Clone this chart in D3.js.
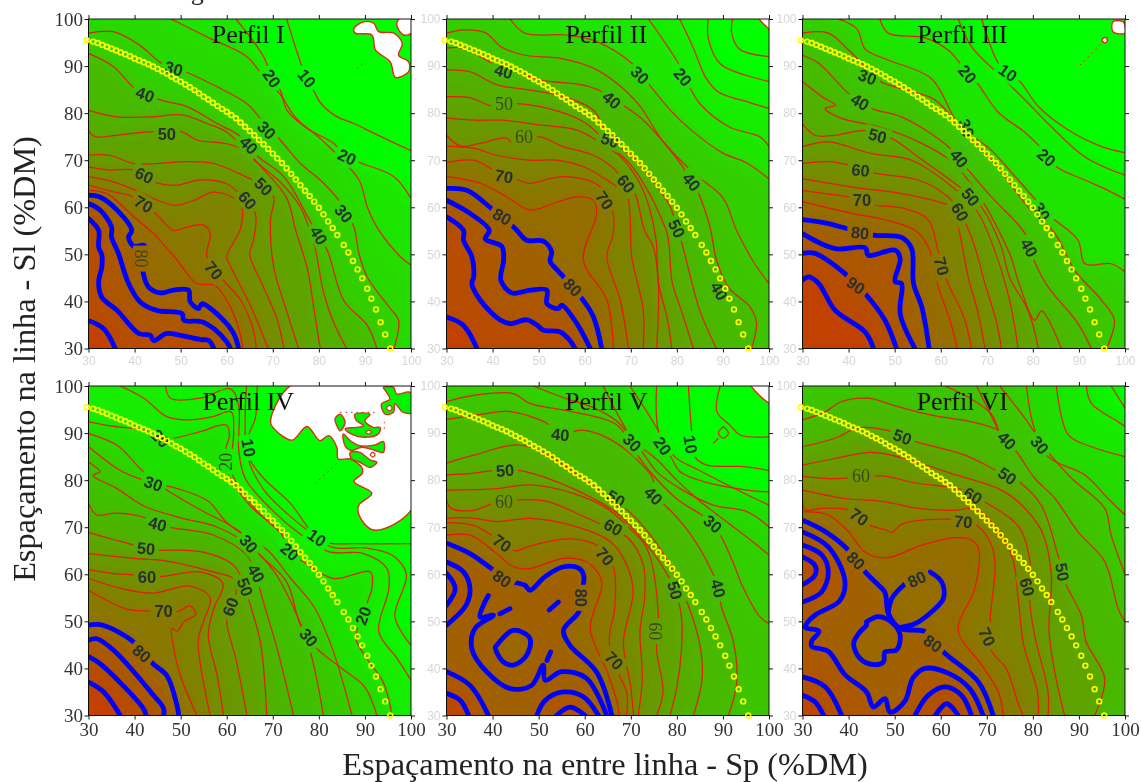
<!DOCTYPE html>
<html>
<head>
<meta charset="utf-8">
<script src="https://cdn.jsdelivr.net/npm/d3@7"></script>
<style>
html, body { margin: 0; background: #fff; }
svg { display: block; font-family: "Liberation Serif", serif; }
</style>
</head>
<body>
<div id="chart"></div>
<script>
// Shared axis ticks and the yellow boundary
const tickValues = [30, 40, 50, 60, 70, 80, 90, 100]
const boundarySp = [29.6,31,32,33,34,35,36,37,38,39,40,41,42,43,44,45,46,47,48,49,50,51,52,53,54,55,56,57,58,59,60,61,62,63,64,65,66,67,68,69,70,71,72,73,74,75,76,77,78,79,80,81,82,83,84,85.4,86.4,87.4,88.4,89.4,90.5,91.4,92.4,93.4,94.4,95.5]
const boundarySl = [95.5,95.2,94.9,94.5,94.1,93.7,93.3,92.9,92.5,92.1,91.6,91.2,90.8,90.4,89.9,89.4,88.9,88.4,87.8,87.2,86.7,86.1,85.5,84.9,84.2,83.5,82.9,82.2,81.5,80.9,80.3,79.6,78.9,78,77.1,76.2,75.3,74.3,73.4,72.4,71.4,70.4,69.4,68.3,67.1,65.9,64.7,63.5,62.4,61.2,59.9,58.5,57,55.6,54.1,52,50.4,48.6,46.8,44.9,42.7,40.6,38.3,35.6,33,30]

// Each contour: [level, points as [Sp, Sl]]
const linesI = [
  [10, [[73,100],[76.3,90],[77.4,87.4],[79,84.5],[80.5,82],[84,79.2],[87.6,77.8],[92,75.7],[100,72]]],
  [20, [[62,100],[68,92],[69.8,87.4],[71.6,84.9],[73.1,80.6],[77.4,76.8],[83.2,73.6],[86.1,70.7],[89.4,69.3],[96.3,66.5],[100,61.9]]],
  [25, [[47.9,100],[55.7,96.2],[64.4,92],[68,87.7],[71.6,84],[75,79],[81,74],[88.7,65.8],[90.5,60.1],[92.6,55.8],[97.7,49.5],[100,47.7]]],
  [30, [[30,97],[35.4,97.3],[41,94.5],[46,90.5],[51,88.8],[57.9,85.6],[64.4,82],[67.3,78.9],[71.6,74.3],[76,69.3],[80.3,65.8],[84.3,61.5],[87.6,55.8],[88.7,50.2],[90.5,45.2],[95.5,38.5],[97.3,36],[96.3,30]]],
  [40, [[30,92.7],[35.4,89.9],[40,85.3],[45.6,82.8],[51.4,81.4],[57.9,77.8],[62.6,75.3],[66.9,70.7],[72.4,66.5],[78.2,56.9],[81.8,50.9],[85.4,40.2],[90.5,34.9],[92.6,30]]],
  [45, [[30,80.6],[36.2,79.2],[43.4,79.2],[50.6,79.6],[55.7,77.8],[60,76],[66,70],[72,65],[76,60],[79,52],[81,42],[83,36],[86,30]]],
  [50, [[30,76.3],[31.5,75],[36,75.3],[43,76],[50.3,76],[53.5,74.3],[60,73.5],[64,72],[68,68],[73,62],[75,55],[77.5,47],[79,38],[80.3,30]]],
  [55, [[30,71.1],[34.7,71],[39.8,69.3],[44.8,69.3],[51.4,69.7],[57.2,69.3],[62.6,67.2],[68,64.4],[70.2,62.2],[69.5,57.3],[70.2,47.3],[73,38],[75.6,30]]],
  [60, [[30,68.6],[34.7,67.9],[40.1,67.9],[44.8,65.2],[49.2,64.7],[54.3,65.8],[60,65],[62.6,63],[66.2,58.7],[65.8,53],[65,50],[68,43],[71,36],[72.4,30]]],
  [65, [[30,66.5],[35,65.5],[40,63.7],[45,61.5],[48.8,60.4],[53,61.5],[57,63.2],[61.5,62],[63.2,60.3],[63,55.5],[60,49.5],[60.8,47.5],[65.2,39],[69,30]]],
  [70, [[30,64.7],[35.4,63.3],[39.8,62.2],[44.5,58.7],[48.5,55.1],[51.4,55.8],[55,56.2],[56.4,54.4],[55.7,49.5],[59.3,44.5],[63,40.3],[65.8,33.9],[66.4,30]]],
  [75, [[30,63.6],[34,62.9],[39.8,58],[44.1,54.4],[49.2,48.8],[53.5,43.8],[57.5,43.4],[60.8,38.8],[62.8,33.5],[63.5,30]]]
]
const blueI = [
  [80, [[30,62.6],[32.5,62.2],[36.2,59.4],[39.4,55.1],[38.7,53.7],[39.8,51.7],[42.1,51.9],[41.6,49.1],[41.9,45.9],[43,43.1],[45.6,41.8],[48.5,42.4],[51.7,42.4],[52.1,39.9],[53.9,38.5],[54.6,39.5],[58.6,36.7],[61.5,33.2],[62.6,30]]],
  [85, [[30,60.8],[32.5,59.4],[35,55.8],[35,53.7],[36.5,50.2],[38.7,43.8],[41.2,39.9],[44.8,38.1],[50.3,37.4],[50.7,36],[54.6,35.7],[57.2,34.2],[60,31.4],[60.8,30]]],
  [90, [[30,57.6],[32.2,55.1],[32.2,51.6],[32.9,49.8],[32.9,47.3],[32.2,44.1],[32.9,40.9],[36.2,38.1],[40.9,33.2],[43.4,32.8],[44.1,31.7],[47,33.2],[49.9,32.8],[54.3,31.9],[56.1,31.7],[57.2,30]]],
  [95, [[30,35.9],[33.3,34.2],[35.8,30]]]
]
const labelsI = [
  [48.5,89.5,"30",15,1],[69.8,87.4,"20",55,1],[77.4,87.4,"10",50,1],[42.3,84,"40",20,1],[68.7,76.4,"30",45,1],[64.8,73.2,"40",45,1],
  [47,75.5,"50",0,1],[86.1,70.7,"20",25,1],[42.1,66.8,"60",25,1],[68,64.4,"50",45,1],[42,60.7,"70",30,1],[64.5,61.5,"60",50,1],
  [85.4,58.7,"30",50,1],[80,54,"40",60,1],[41.6,49.1,"80",90,0],[57.2,46.6,"70",50,1]
]
const holesI = [
  [[87.6,98],[89.7,99.4],[91.9,99.1],[93,97.3],[96.3,97],[98.1,94.8],[97.3,92.3],[99.5,90.9],[99.5,88.8],[96.6,87.6],[95.5,90.9],[92.3,93.4],[91.5,96.6],[87.9,97]],
  [[97,99.4],[98.1,100.5],[100.5,100.5],[100.5,97.3],[98.4,96.6],[97,98.4]]
]

const linesII = [
  [6, [[92.1,100],[91.9,97],[93.7,93.5],[100,92]]],
  [12, [[86.8,100],[86.8,96],[89.4,90.5],[95.1,88],[100,86.7]]],
  [16, [[80.6,100],[83.5,94],[86.3,87.5],[89,84.5],[96,82.2],[100,81]]],
  [20, [[73.8,100],[80.3,90.6],[82.9,85.3],[85,82],[91.5,77],[98,75],[100,72.9]]],
  [30, [[43.8,100],[47,97],[56.1,96.6],[62.6,95.2],[70.2,90.6],[74.2,85.8],[78.5,80.7],[83,76.5],[90,71.5],[95,69.5],[100,66]]],
  [35, [[30,97],[33.7,97.7],[38.4,97.1],[42,94],[47,92.3],[55,91.6],[62,89.5],[68,85.5],[72,81.5],[77,74],[84,67],[90,62],[93,55],[96.9,48],[100,43.8]]],
  [40, [[30,93.8],[33.7,93.8],[40,90.6],[44.5,89],[50.5,87],[60,85.9],[65.5,83.7],[68,81.9],[72.5,78.7],[77.4,73.5],[81,69],[83.2,65.4],[84.7,62.9],[87.2,55.8],[88.6,48.8],[91.2,43],[95.9,38.8],[97.3,35.3],[96.2,30]]],
  [45, [[30,89.2],[35,88.8],[41,86],[47.4,85],[55.4,83.5],[62,80.5],[65.5,74.3],[70,71],[76,64],[78.6,60],[80,55.5],[81,52.7],[83,45],[85,38],[88.6,30]]],
  [50, [[30,83.5],[35,83.3],[40,81.5],[44.2,82],[52,81],[60,78],[65,73.5],[70,69],[74,63],[76,59],[78,54],[79,44],[81,38],[83.6,30]]],
  [55, [[30,79],[36,78.5],[42,78.5],[50,77.5],[58,76.5],[63,74],[68,70.5],[72,65],[74,60],[75.5,53],[76,44],[78,36],[78.9,30]]],
  [60, [[30,75.3],[33,73],[37,73.5],[43,74.7],[44.5,73.5],[50,75],[55,73],[62,71],[66,68.5],[69,65],[70.9,62.9],[73,55],[74.9,51.6],[76,43.4],[75.6,30]]],
  [65, [[30,73],[36,72.5],[41,71],[48,70],[54,70],[60,68.5],[64.5,66],[66,65],[69,63],[69.8,58.7],[70.2,49.5],[72.7,38.2],[72.7,30]]],
  [70, [[30,69.5],[35.9,70],[40.3,67.9],[45.6,65.8],[48,65.1],[55.4,66.5],[63.3,64.4],[66.1,59],[66.2,54.4],[64.8,49.5],[67.7,40.3],[69.5,30]]],
  [75, [[30,66.5],[37.3,65.1],[43.1,62.2],[48.1,59.4],[53.2,60.8],[58.3,62.2],[61.9,61.5],[62.6,58.7],[59.7,48.8],[64.8,40.3],[66.2,30]]]
]
const blueII = [
  [80, [[30,64],[34.4,63.6],[39.8,59.7],[44.9,55.5],[47.4,53],[51,52.8],[52.8,50.6],[52.5,48.5],[54.3,46.4],[55.4,45.2],[59.4,40.6],[61.9,36.7],[63.7,30]]],
  [85, [[30,61.5],[35.1,58.7],[39.3,55.1],[38.4,53.3],[42,51.7],[42.4,48.8],[41.8,44.5],[44.2,41.8],[48.2,42.4],[51.8,42.4],[51.8,39.5],[54.3,38.5],[55,39.2],[58.3,35.3],[61.2,30]]],
  [90, [[30,58],[33.7,55.1],[33.7,53],[35.5,49.5],[35.9,45.2],[35.5,43.8],[37.3,40.3],[41.6,36.1],[43.8,35.3],[47.4,36.1],[49.6,35],[51,33.9],[54.7,33.5],[56.8,31.7],[57.9,30]]],
  [95, [[30,36.7],[33.7,34.9],[36.6,30]]]
]
const labelsII = [
  [42.4,88.9,"40",15,1],[72,88.1,"30",45,1],[81.3,87.7,"20",50,1],[65.9,82.8,"40",40,1],[42.5,82.1,"50",0,0],[46.8,75,"60",0,0],
  [65.5,74.3,"50",20,1],[42.5,66.6,"70",10,1],[83.2,65.4,"40",50,1],[69,65,"60",50,1],[64.3,61.5,"70",55,1],[42.1,58,"80",30,1],
  [80,55.5,"50",65,1],[57.4,43,"80",45,1],[89.2,42.2,"40",60,1]
]
const holesII = [
  [[97.7,100.5],[100.5,100.5],[100.5,97.7]]
]

const linesIII = [
  [10, [[68.9,100],[72.5,90.6],[74.6,88.6],[77.2,86.7],[81.2,81.4],[87.7,76.4],[94.9,72.9],[100,71.6]]],
  [15, [[63.8,100],[66.7,94.1],[73.2,87.7],[78.3,82.8],[84,77.1],[91.3,70.7],[100,66.8]]],
  [20, [[46.8,100],[48.6,97],[56.6,96],[61.6,93.4],[64.2,90.6],[68,86.3],[72.5,80.2],[78.3,75.9],[81.2,73.2],[85.1,68.6],[91.3,65.8],[96.3,63.6],[100,61.7]]],
  [30, [[37.8,100],[41.8,97.9],[43.6,93.6],[48,91.5],[58,87.3],[63.8,77.8],[71,72.1],[76.8,65.8],[84,58],[89.8,53],[91.3,48],[97,48],[100,46.3]]],
  [35, [[30,97],[35.6,97],[40,93.4],[42.9,90.6],[47,86.7],[58.8,82.8],[64.5,76.4],[72,69],[79,60],[84.8,54.4],[89.1,46.6],[94.9,40.3],[97.7,36],[96,30]]],
  [40, [[30,92.3],[33.5,90.6],[40,84.2],[45,81],[51.5,79.2],[61.6,72.9],[66,67.9],[71,62.2],[78.3,54.4],[80.4,48.4],[83.3,43.1],[89.8,35.3],[92.7,30]]],
  [45, [[30,86.7],[34.2,83.5],[37.1,81.7],[34.9,81],[38.5,78.9],[47,77],[55,74],[62,70],[68,63],[75,50],[77,43.8],[80.4,36],[81.9,38],[86.2,30]]],
  [50, [[30,77.7],[32.7,75.3],[37.1,75.3],[43.2,76.3],[49.4,74.6],[55.1,70.7],[64.5,64],[68.9,60],[73,52],[75,45],[79,38],[81.2,30]]],
  [55, [[30,72.9],[35.6,73.9],[45,71.4],[53.7,70],[62.4,64.4],[68,59],[72,50],[75,40],[76.8,30]]],
  [60, [[30,69.3],[35.6,69.7],[40,69],[45.4,67.3],[55.1,65.8],[61.6,62.2],[64.2,59],[65.6,56.2],[67.4,51.6],[69.6,43.8],[72,36],[73.2,30]]],
  [65, [[30,66.1],[40.7,64.3],[51.5,62.9],[60,61],[62.5,60],[64,55],[66,45],[68,38],[69.6,30]]],
  [70, [[30,63.6],[34.9,62.9],[40,62.2],[45.4,60.5],[52.3,59.7],[57.3,57.3],[59.5,50.5],[61.3,44.5],[65,36.7],[66.7,30]]],
  [75, [[30,61.2],[40.7,58.7],[48,57.3],[54.4,55.1],[57.3,51.6],[59.5,43],[62,36],[63.6,30]]]
]
const blueIII = [
  [80, [[30,57.4],[34.9,56.7],[39.6,55.5],[45.4,54.1],[51.5,53.6],[53.7,51.2],[54.1,43.8],[55.9,38.8],[57.5,30]]],
  [85, [[30,54.4],[37.1,51.2],[43.6,51.4],[44.3,49.8],[50.1,50.9],[51.2,49.1],[50.1,44.2],[51.5,43.8],[51.2,37.4],[54.4,30]]],
  [90, [[30,50.2],[32.7,50.2],[39.6,45.6],[43.9,41.3],[47.9,36],[50.4,30]]],
  [95, [[30,44.5],[31.3,45.2],[33.5,43.8],[37.1,38.1],[43.6,33.5],[45.4,30]]]
]
const labelsIII = [
  [44.1,87.7,"30",20,1],[65.8,88.3,"20",50,1],[74.6,88.6,"10",35,1],[42.5,82.4,"40",30,1],[65.6,76.8,"30",70,1],[46.3,75.2,"50",15,1],
  [83,70.6,"20",40,1],[64,70.4,"40",50,1],[42.6,67.9,"60",5,1],[66.5,62.2,"50",50,1],[42.9,61.5,"70",0,1],[64.2,59,"60",60,1],
  [81.9,59.1,"30",60,1],[42.5,54.6,"80",5,1],[79.2,51.4,"40",60,1],[60.2,47.5,"70",75,1],[41.6,43.4,"90",35,1]
]
const holesIII = [
  [[97.4,99.4],[99.6,99.4],[100,97],[97.4,97.3]],
  [[95,95.5],[95.6,96.1],[96.2,95.5],[95.6,94.9]]
]

const linesIV = [
  [10, [[66.6,100],[66.2,93.1],[64.8,89.6],[64.8,86.9],[65.1,84.3],[68,80.4],[73.8,75.1],[77.8,69.7],[79.6,67.8],[82.1,66.6],[87.6,66.5],[100,66.5]]],
  [13, [[64.3,100],[64,93],[64.5,85],[68,78],[73,73],[78,69],[83,65.7],[90,65.6],[96,64],[99,60],[96.5,51],[100,44.9]]],
  [16, [[46.7,100],[47.8,97.4],[54.3,97.4],[60.8,99.4],[62.6,95.9],[62.6,86.6],[64,80.4],[70.2,73.3],[76,68.5],[82.1,64.8],[89.7,64.4],[94.8,61.2],[95.2,57],[93,47.8],[97,42.1],[100,37.5]]],
  [20, [[36.9,100],[42,97.4],[47,93.5],[52,92.8],[57,93.5],[61,94.5],[61.5,90],[61,82],[63,78],[67,73],[72,68.5],[76,63.5]]],
  [22, [[30,92.4],[35,91.5],[42,90.6],[45.6,88.9],[48.5,88.9],[54.3,90.3],[59.9,91.7],[60.6,89.6],[59.7,86.4],[59.7,83.9],[60,81.8],[62.7,77.5],[65.6,74],[71.6,69],[73.7,64.8],[76.7,62.6],[83.2,59.1],[91.2,60.5],[91.5,57],[90.5,54],[89.6,51.2],[88,46.5],[90.5,42],[94,37],[95.9,30]]],
  [28, [[30,89.9],[36.2,87.4],[42,81.7],[47,77.9],[54.3,73.7],[62.9,69],[66.9,64.4],[73,58.4],[76,49.2],[79.6,44.2],[85,40],[90,36],[92.6,30]]],
  [33, [[30,87.1],[37,82],[42,80],[50,78],[56,75.5],[60,71],[65,67.5],[69,65],[74,59],[79,53],[83,44],[87.2,30]]],
  [37, [[30,83.8],[32.5,81.8],[31,81],[36.2,78.2],[42,74.5],[50,72],[58,70],[65,66],[70,61],[74,54],[78,44],[81,30]]],
  [42, [[30,75],[31.8,72.6],[36,73],[42.7,71.9],[45,70.7],[48.1,69.9],[57.2,68.3],[64.4,64],[66.2,60.2],[68,54],[71,44],[74.5,30]]],
  [50, [[30,68.9],[35,67.5],[39.8,66.2],[41.7,65.1],[45.6,65.1],[54.3,64.8],[61.5,61.9],[64,57.3],[64.8,54.5],[67.3,45.6],[68.7,30]]],
  [56, [[30,64.4],[39.8,63.4],[47,62.8],[57,60.5],[61.5,59],[62,56],[60.8,53.1],[60,50],[62,42],[64.4,30]]],
  [60, [[30,61],[36,60.1],[39.8,59.9],[45.6,59.5],[54.3,60.5],[59.2,58],[57.2,52.7],[56,47],[57.9,38.6],[59.3,30]]],
  [65, [[30,59.1],[37,57],[44,56],[52,57.5],[56.4,55],[55,50],[53.8,46],[56.4,30]]],
  [70, [[30,56.6],[38.3,52.6],[43.4,52.2],[49.2,52],[52,53.3],[53.3,51.5],[50.8,50],[49.2,47.9],[48.1,48.5],[48.5,44.2],[49.9,38.6],[53.5,30]]]
]
const blueIV = [
  [80, [[30,49.2],[32.5,49.3],[35.8,48.1],[39.8,45.6],[44,41],[47,38.5],[49.2,32.2],[49.6,30]]],
  [85, [[30,46],[31.8,46.3],[35.4,43.9],[44.1,34.3],[46.3,31.5],[46.3,30]]],
  [90, [[30,42.5],[32.5,41],[41.9,31.5],[42.5,30]]],
  [95, [[30,37.1],[33.3,35],[36.9,30]]]
]
const labelsIV = [
  [45.6,88.9,"20",45,1],[64.8,86.9,"10",80,1],[59.7,83.9,"20",-90,0],[44.1,79.3,"30",20,1],[45,70.7,"40",15,1],[79.6,67.8,"10",35,1],
  [64.8,66.5,"30",50,1],[42.5,65.5,"50",5,1],[73.7,64.8,"20",40,1],[42.7,59.5,"60",0,1],[66.4,60.2,"40",60,1],[64,57.3,"50",70,1],
  [46.3,52.2,"70",0,1],[60.8,53.1,"60",-70,1],[89.6,51.2,"20",-70,1],[77.8,46.6,"30",50,1],[41.6,43.2,"80",40,1]
]
const holesIV = [
  [[74.5,100.5],[100.5,100.5],[100.5,74.3],[91.9,69.4],[88.7,72.6],[88.7,74.7],[91.5,77.2],[87.6,79.7],[89.4,81.4],[89.3,82.7],[86.8,84.5],[84.2,84.5],[83.9,87],[82.1,89.45],[80.25,88.4],[77.4,91.4],[74.2,88.5],[70.2,91],[69.5,92.4]]
]
const islandsIV = [
  [[94,99.7],[96.2,99.7],[96.9,98.3],[99.8,98.65],[100.5,94.4],[98.3,94.4],[96.5,96.2],[96.2,94.4],[94.4,94],[93.6,96.2],[95.4,97.2],[94.7,98.65]],
  [[83.5,93],[84.6,94],[85.7,92.3],[84.6,90.5],[83.9,91.6]],
  [[87.85,94],[91.1,94],[90,92.6],[91.8,91.2],[93.3,91.2],[92.9,89.8],[89.7,89.1],[87.1,89.8],[85.7,90.9],[88.2,91.2],[89.7,91.6],[88.2,92.6]],
  [[85.3,89.8],[86.8,88.4],[88.9,87.3],[92.2,87.5],[94,88.2],[94,85.9],[92.2,86.3],[89.3,87],[87.1,86.3],[85.7,87.3]],
  [[86.8,85.9],[88.9,85.9],[91.1,84.3],[92.6,83.8],[91.1,82.7],[88.9,83.8],[87.1,84.5]]
]
const spotsIV = [
  [[94.7,95.3],[95.3,95.9],[95.9,95.3],[95.3,94.7]],
  [[90.2,90.2],[90.9,90.6],[91.4,90.2],[90.8,89.8]],
  [[91.2,85.4],[91.7,85.9],[92.2,85.4],[91.7,84.9]]
]

const linesV = [
  [6, [[89.4,100],[88.7,94.5],[91.5,91.7],[93.7,89.6],[100,89.2]]],
  [10, [[82.5,100],[83.2,90.6],[83.9,85],[86.5,83.2],[93.7,82.9],[100,82.1]]],
  [18, [[75.6,100],[76,90.3],[78.9,84.6],[80.7,81.8],[85.8,79.7],[95.2,77.9],[100,77.5]]],
  [22, [[69.8,100],[73.5,94.5],[76,90.5],[79.5,85],[85,82],[95,77],[100,74.7]]],
  [26, [[64,100],[69.1,90.6],[72.7,85.7],[75.6,81.8],[80.7,78.2],[87.9,74.7],[95.2,73.3],[100,70.1]]],
  [30, [[48.9,100],[55.4,97.5],[61.9,95.4],[67,92.5],[71,88],[75.5,84.5],[80,80],[85,75.5],[91,71],[97,66.5],[100,64.1]]],
  [35, [[30,96.7],[35.9,98],[44.5,98.4],[48.1,96.3],[57.5,94.5],[67,91.7],[71,86],[74,82],[80,76],[87.8,70.7],[92,63],[94,58],[98,51],[100,49.5]]],
  [40, [[30,92.9],[37.1,93.9],[43.3,94.6],[51.6,92.2],[54.7,89.7],[59.5,90.6],[66,88.4],[71.9,83.8],[74.8,80.2],[74.9,76.7],[77.1,75],[82.9,68.6],[87.9,60],[89,57],[89.7,53],[92.2,46],[93,37],[91.2,30]]],
  [45, [[30,83.6],[35.9,85.3],[45.3,87.5],[51.4,85.7],[60.4,79.7],[65.5,76.2],[70,73],[76,66],[80,59],[83,52],[85,45],[85.5,38],[83.6,30]]],
  [50, [[30,81.1],[36,81.5],[40,82],[46,82],[53,80],[62,76],[67,73],[72,68],[76,63],[79.6,56.6],[81,51],[81,44],[80,36],[78.5,30]]],
  [55, [[30,77.9],[41,78.2],[48,79],[57.5,77.2],[64.8,74],[69.8,69.7],[73.5,65.5],[76,51.3],[75.6,44],[77,35],[75.6,30]]],
  [60, [[30,75.8],[31,74],[36,73.6],[40,75],[45.6,75.8],[51.8,75.5],[59,72.6],[64,70.4],[69.5,67.6],[72.7,62],[73,55],[72,48],[72.5,38],[71.6,30]]],
  [65, [[30,71.9],[35.1,72],[41,71.2],[48.1,71.9],[56.8,70.5],[65.5,67],[69.1,62],[70.5,56.3],[68.4,45.6],[70,36],[70.6,30]]],
  [70, [[30,71],[35.9,70.4],[40.2,68],[44.9,65],[48.1,66],[56.8,67.5],[63.3,65.8],[66.2,61.6],[66.5,52.7],[65.4,47.4],[65.8,42],[69.1,35],[69.1,30]]],
  [75, [[30,68.3],[35.1,68.3],[40.9,64.4],[44.5,61.6],[48.1,61.2],[55.4,63.4],[60.4,62.6],[63.7,58.4],[61.2,48.5],[65,39],[67,33],[67.5,30]]]
]
const loopsV = [
  [7, [[90.1,91.4],[91.2,90],[90.1,88.9],[89,90],[90.1,91.4]]],
  [7, [[87.9,87.8],[89,88.9]]]
]
const blueV = [
  [80, [[30,66.6],[35.1,64.4],[39.8,61.2],[44.5,58.4],[47,57.7],[48.1,56.6],[51.4,59.5],[55.4,61.6],[58.7,61.3],[59.8,59.7],[59.1,55],[58.7,52],[55.4,48.1],[56.8,44.9],[62.6,39.2],[65.9,30]]],
  [85, [[39.1,55.5],[38,53.4],[37.3,50.9],[40.2,51.3],[36.2,48.5],[35.5,44.2],[38.7,39.3],[43.8,35.7],[48.5,36.4],[51,40.7],[51.4,37.5],[55,39.3],[60.4,37.9],[64.8,30]]],
  [85, [[30,62.6],[33.7,60.5],[35.1,57],[34.3,53.5],[30,49.2]]],
  [92, [[30,60.2],[31.9,57],[30,53.4]]],
  [86, [[30,39.3],[35.1,36.4],[39.1,30]]],
  [93, [[30,34.7],[33,33.2],[34.8,30]]],
  [86, [[49.6,30],[51.4,33.2],[55.4,35],[59.7,34],[63,30]]],
  [93, [[53.9,30],[56.8,31.8],[60.1,30]]],
  [76, [[40.9,44.9],[44.5,48.1],[48.1,46.4],[47.4,42.8],[44.5,40.7],[42,41.7],[40.6,44.6],[40.9,44.9]]],
  [80, [[41.6,51.6],[43.8,52.7]]],
  [80, [[52.3,52.4],[54.3,54.1]]],
  [80, [[51.8,41.7],[52.6,43.5]]]
]
const labelsV = [
  [54.7,89.7,"40",5,1],[70.3,88,"30",45,1],[76.9,87.3,"20",55,1],[83,87.6,"10",80,1],[42.7,82.1,"50",-5,1],[66.8,76.1,"50",30,1],
  [74.9,76.7,"40",45,1],[42.5,75.5,"60",0,0],[87.8,70.7,"30",40,1],[66.2,70,"60",30,1],[42.1,66.6,"70",35,1],[64.4,63.8,"70",50,1],
  [42.1,59.1,"80",35,1],[79.6,56.6,"50",75,1],[89,57,"40",75,1],[59.1,55,"80",90,1],[75.4,47.9,"60",90,0],[66.4,41.7,"70",45,1]
]
const holesV = [
  [[96,100.5],[100.5,100.5],[100.5,96.3]]
]

const linesVI = [
  [14, [[97,100],[100,95.3]]],
  [18, [[91.6,100],[92.7,96.3],[98.5,92.4],[100,91.4]]],
  [24, [[85.1,100],[87.7,89.6],[92.7,87.1],[100,85]]],
  [30, [[78.6,100],[80.1,91.7],[83.3,85],[91.3,81.1],[96.3,76.1],[100,72.6]]],
  [35, [[72.8,100],[78.3,93.1],[83.3,86],[88.4,80.4],[95.6,74],[97,68.3],[100,60]]],
  [40, [[30,92.8],[34.9,94.5],[38.5,96.7],[44.3,97.4],[49.4,96],[58,93.8],[66.7,92.4],[72.5,90.6],[74.4,88.4],[76.5,86],[80.4,80.4],[84.8,76.1],[89.8,69],[95.6,62.7],[98.5,52.7],[100,49.9]]],
  [42, [[60.9,100],[66.2,97.5],[71,94],[72.5,90.6]]],
  [38, [[67.8,100],[72.5,90.6]]],
  [50, [[30,87.1],[37.1,88.9],[42.1,91.1],[49.4,90.3],[54.6,88.2],[65.3,85.3],[72.5,81.8],[77.2,79.5],[81.9,74.5],[85.5,63.8],[86.4,60.5],[87.3,57.6],[90.5,51.3],[91.6,45.6],[95.6,37.8],[93.4,30]]],
  [55, [[30,83.2],[37.1,84.6],[44.9,85.9],[52.2,84.6],[62,81.5],[72.5,78.2],[76.8,75.4],[81.9,69.2],[84,60],[83.5,48],[85,38],[86.9,30]]],
  [60, [[30,80.8],[37,80.3],[47.4,80.9],[54,79.5],[65.5,77.7],[69.7,75.3],[77,70],[79.7,60],[79.3,54.5],[80.4,47],[83.3,35],[83.3,30]]],
  [65, [[30,77.9],[39.2,76.1],[47.9,75.4],[55.1,74],[63,73.6],[67.4,74],[70.3,71.9],[75.4,64],[76.8,55],[78,45],[81,35],[81.2,30]]],
  [70, [[30,75.8],[30.6,73.7],[34.2,74],[40,73.7],[44.7,70.4],[47.9,69.5],[49.4,68.9],[51.5,70.6],[62,71.7],[67.8,70.4],[71,66.2],[71.8,61.9],[70.7,49.9],[71,43.8],[74.2,40],[77,32],[77.9,30]]],
  [75, [[30,73.3],[35.6,72.6],[40,69],[43.6,64.7],[48.3,63.5],[55.9,66.2],[63.1,67.8],[66.7,67.3],[68.2,65.5],[67.4,57],[63.8,48.1],[68.9,40.7],[72.5,35],[73.6,30]]]
]
const blueVI = [
  [80, [[30,71.5],[34.9,69.1],[39.9,65.2],[43.6,60.5],[46.5,57.7],[47.9,56.2],[48.3,53.4],[48.6,51.7],[51.2,48.5],[56.6,47.8],[60.6,43.5],[68.2,37.1],[71.4,30]]],
  [85, [[30,69],[35.6,65.8],[39.2,58.6],[38.1,54.4],[33,51.5],[31.1,49.8],[30.6,48.7],[33.6,47.9],[32,45.8],[32,44.7],[35.6,43.6],[39.2,38.7],[43.9,35],[45.4,31.8],[47.9,33.6],[49,30.7],[52.2,33],[54,38],[56.6,40],[61.6,39],[66.3,35.7],[69.2,30]]],
  [88, [[30,66.2],[34.2,64.1],[35.6,60.5],[34.2,56.3],[30,54.1]]],
  [92, [[30,63.7],[32.7,61.9],[32.7,59.8],[30,57.8]]],
  [88, [[30,38.2],[34.9,36.1],[38.5,30]]],
  [93, [[30,34.3],[32.7,32.9],[34.6,30]]],
  [88, [[54.4,30],[57.3,34.3],[60.9,36.1],[64.5,34.3],[66.7,30]]],
  [93, [[58.8,30],[61.3,32.5],[63.8,30]]],
  [77, [[43.9,49.9],[46.5,51],[49.7,49.5],[51.2,47.1],[50.4,43.9],[47.9,43.5],[47.6,41.4],[45.4,40.8],[42.5,42.1],[41.1,45.3],[42.5,47.8],[43.9,49.2],[43.9,49.9]]],
  [80, [[48.6,51.7],[49.4,54.9],[52.3,58]]],
  [80, [[57.7,60.5],[60.2,58.4],[60.6,54.9],[58,52],[54.4,49.5],[51.5,48.8]]]
]
const labelsVI = [
  [51.7,89.2,"50",20,1],[74.4,88.4,"40",45,1],[81.5,87.5,"30",50,1],[42.7,80.9,"60",0,0],[74.5,80.9,"50",35,1],[67,76.7,"60",30,1],
  [42.3,72.2,"70",35,1],[64.9,71.2,"70",5,1],[41.6,62.9,"80",45,1],[86.4,60.5,"50",80,1],[54.8,59,"80",-25,1],[78.8,57.3,"60",75,1],
  [70.1,46.7,"70",65,1],[58.3,45.3,"80",35,1]
]
const dottedLines = [
  [0, [[88.3,89.5],[90.2,91]]],
  [2, [[90.2,90.2],[96.7,96.6]]],
  [3, [[79.2,79.3],[84.3,83.9]]],
  [3, [[84.6,94.4],[92.2,94.4]]],
  [3, [[94.2,92.4],[94.2,90.5]]]
]

const perfilNames = ["Perfil I", "Perfil II", "Perfil III", "Perfil IV", "Perfil V", "Perfil VI"]
const perfilLines = [linesI, linesII, linesIII, linesIV, linesV.concat(loopsV), linesVI]
const perfilBlue = [blueI, blueII, blueIII, blueIV, blueV, blueVI]
const perfilLabels = [labelsI, labelsII, labelsIII, labelsIV, labelsV, labelsVI]
const perfilHoles = [holesI, holesII, holesIII, holesIV, holesV, []]
const perfilIslands = [[], [], [], islandsIV, [], []]
const perfilSpots = [[], [], [], spotsIV, [], []]

const width = 1141, height = 782
const panelLefts = [88.5, 446.5, 802.5]
const panelTops = [19, 386]
const panelW = 322.5, panelH = 329.5

const svg = d3.select("#chart").append("svg").attr("width", width).attr("height", height)
const defs = svg.append("defs")
defs.append("filter").attr("id", "smooth")
  .attr("filterUnits", "userSpaceOnUse").attr("x", 0).attr("y", 0).attr("width", width).attr("height", height)
  .append("feGaussianBlur").attr("stdDeviation", 7)
defs.append("filter").attr("id", "soft")
  .attr("filterUnits", "userSpaceOnUse").attr("x", 0).attr("y", 0).attr("width", width).attr("height", height)
  .append("feGaussianBlur").attr("stdDeviation", 0.4)

const color = d3.scaleLinear().domain([8, 95]).range(["#00ff00", "#c24000"]).clamp(true)

// Close a contour round the lower left corner so the higher side can be filled
function closeContour(pts) {
  const s = pts[0], e = pts[pts.length - 1]
  const onEdge = p => p[0] <= 30 || p[0] >= 100 || p[1] <= 30 || p[1] >= 100
  if (s[0] === e[0] && s[1] === e[1]) return pts
  if (!onEdge(s) || !onEdge(e)) return null
  const sameEdge = (s[0] <= 30 && e[0] <= 30) || (s[1] <= 30 && e[1] <= 30)
  if (sameEdge) return pts
  const out = pts.slice()
  if (e[0] >= 100) out.push([115, e[1]], [115, 15])
  else out.push([e[0], 15])
  out.push([15, 15])
  if (s[0] <= 30) out.push([15, s[1]])
  else out.push([15, 115], [s[0], 115])
  return out
}

perfilNames.forEach((name, i) => {
  const left = panelLefts[i % 3], top = panelTops[Math.floor(i / 3)]
  const x = d3.scaleLinear().domain([30, 100]).range([left, left + panelW])
  const y = d3.scaleLinear().domain([30, 100]).range([top + panelH, top])
  const g = svg.append("g").attr("filter", "url(#soft)")

  const clipId = "clip" + i, maskId = "gap" + i
  defs.append("clipPath").attr("id", clipId).append("rect")
    .attr("x", left).attr("y", top).attr("width", panelW).attr("height", panelH)

  const smooth = d3.line().x(d => x(d[0])).y(d => y(d[1])).curve(d3.curveCatmullRom.alpha(0.5))
  const straight = d3.line().x(d => x(d[0])).y(d => y(d[1]))
  const blob = d3.line().x(d => x(d[0])).y(d => y(d[1])).curve(d3.curveCatmullRomClosed.alpha(0.5))

  // background colour field, painted low level to high level and blurred
  const field = g.append("g").attr("clip-path", `url(#${clipId})`)
  const bands = field.append("g").attr("filter", "url(#smooth)")
  bands.append("rect").attr("x", left - 40).attr("y", top - 40)
    .attr("width", panelW + 80).attr("height", panelH + 80).attr("fill", color(0))
  const allLines = perfilLines[i].concat(perfilBlue[i])
  const order = d3.range(allLines.length).sort((a, b) => {
    const la = allLines[a][1], lb = allLines[b][1]
    const loopA = la[0][0] === la[la.length - 1][0] && la[0][1] === la[la.length - 1][1]
    const loopB = lb[0][0] === lb[lb.length - 1][0] && lb[0][1] === lb[lb.length - 1][1]
    return (loopA - loopB) || (allLines[a][0] - allLines[b][0])
  })
  order.forEach(k => {
    const closed = closeContour(allLines[k][1])
    if (closed) bands.append("path").attr("d", straight(closed) + "Z").attr("fill", color(allLines[k][0]))
  })

  // labels cut gaps in the lines
  const mask = defs.append("mask").attr("id", maskId).attr("maskUnits", "userSpaceOnUse")
    .attr("x", 0).attr("y", 0).attr("width", width).attr("height", height)
  mask.append("rect").attr("width", width).attr("height", height).attr("fill", "#fff")
  perfilLabels[i].forEach(l => mask.append("rect")
    .attr("x", -13).attr("y", -9).attr("width", 26).attr("height", 18).attr("fill", "#000")
    .attr("transform", `translate(${x(l[0])},${y(l[1])}) rotate(${l[3]})`))

  const lineGroup = field.append("g").attr("mask", `url(#${maskId})`).attr("fill", "none")
  lineGroup.selectAll(".red").data(perfilLines[i]).join("path").attr("class", "red")
    .attr("d", d => smooth(d[1])).attr("stroke", "#f01000").attr("stroke-opacity", 0.9).attr("stroke-width", 1.25)
  lineGroup.selectAll(".blue").data(perfilBlue[i]).join("path").attr("class", "blue")
    .attr("d", d => smooth(d[1])).attr("stroke", "#0000ff").attr("stroke-width", 4.8)
    .attr("stroke-linecap", "round").attr("stroke-linejoin", "round")

  // white areas outside the fitted range, drawn over the lines
  const holes = field.append("g")
  perfilHoles[i].forEach(h => holes.append("path").attr("d", blob(h))
    .attr("fill", "#fff").attr("stroke", "#e02818").attr("stroke-width", 1.4))
  perfilIslands[i].forEach(h => holes.append("path").attr("d", blob(h))
    .attr("fill", "#00f400").attr("stroke", "#d83020").attr("stroke-width", 1.4))
  perfilSpots[i].forEach(h => holes.append("path").attr("d", blob(h))
    .attr("fill", "#fff").attr("stroke", "#e02818").attr("stroke-width", 1.2))

  dottedLines.filter(d => d[0] === i).forEach(d => field.append("path").attr("d", straight(d[1]))
    .attr("fill", "none").attr("stroke", "#e02010").attr("stroke-dasharray", "1.5,4"))

  // contour labels
  g.append("g").selectAll("text").data(perfilLabels[i]).join("text")
    .attr("transform", d => `translate(${x(d[0])},${y(d[1])}) rotate(${d[3]})`)
    .attr("text-anchor", "middle").attr("dy", "0.36em")
    .attr("font-family", d => d[4] ? '"Liberation Sans", sans-serif' : '"Liberation Serif", serif')
    .attr("font-weight", d => d[4] ? "bold" : "normal")
    .attr("font-size", d => d[4] ? 16.5 : 18)
    .attr("fill", d => d[4] ? "#283030" : "#3a4a20")
    .text(d => d[2])

  // frame and axes
  g.append("rect").attr("x", left).attr("y", top).attr("width", panelW).attr("height", panelH)
    .attr("fill", "none").attr("stroke", "#101010").attr("stroke-width", 1)

  const dark = { family: '"Liberation Serif", serif', size: 19, fill: "#333" }
  const faint = { family: '"Liberation Sans", sans-serif', size: 12, fill: "#d6d6d6" }
  const leftStyle = i % 3 === 0 ? dark : faint
  const bottomStyle = i >= 3 ? dark : faint
  const style = (sel, st) => {
    sel.select(".domain").remove()
    sel.selectAll("line").attr("stroke", "#151515")
    sel.selectAll("text").attr("font-family", st ? st.family : null).attr("font-size", st ? st.size : null).attr("fill", st ? st.fill : null)
  }
  g.append("g").attr("transform", `translate(${left},0)`)
    .call(d3.axisLeft(y).tickValues(tickValues).tickSize(4).tickPadding(i % 3 === 0 ? 1.5 : 2))
    .call(style, leftStyle)
  g.append("g").attr("transform", `translate(0,${top + panelH})`)
    .call(d3.axisBottom(x).tickValues(tickValues).tickSize(4).tickPadding(i >= 3 ? 3 : 4))
    .call(style, bottomStyle)
  g.append("g").attr("transform", `translate(0,${top})`)
    .call(d3.axisTop(x).tickValues(tickValues).tickSize(4).tickFormat(""))
    .call(style, null)
  g.append("g").attr("transform", `translate(${left + panelW},0)`)
    .call(d3.axisRight(y).tickValues(tickValues).tickSize(4).tickFormat(""))
    .call(style, null)

  // yellow ring markers on the boundary
  g.append("g").selectAll("circle").data(boundarySp).join("circle")
    .attr("cx", d => x(d)).attr("cy", (d, k) => y(boundarySl[k])).attr("r", 2.4)
    .attr("fill", "none").attr("stroke", "#ffff00").attr("stroke-width", 1.6)

  g.append("text").attr("x", left + panelW / 2 - 1.5).attr("y", top + 24)
    .attr("text-anchor", "middle").attr("font-size", 26).attr("fill", "#111").text(name)
})

// axis titles and the cut line of text above the figure
const titles = svg.append("g").attr("filter", "url(#soft)").attr("font-size", 32.3).attr("fill", "#222").attr("text-anchor", "middle")
titles.append("text").attr("x", 605).attr("y", 775).text("Espaçamento na entre linha - Sp (%DM)")
titles.append("text").attr("transform", "translate(35,359) rotate(-90)").text("Espaçamento na linha - Sl (%DM)")
svg.append("text").attr("x", 138).attr("y", 0).attr("font-size", 26).attr("fill", "#222").text("eta figura .")
</script>
</body>
</html>
